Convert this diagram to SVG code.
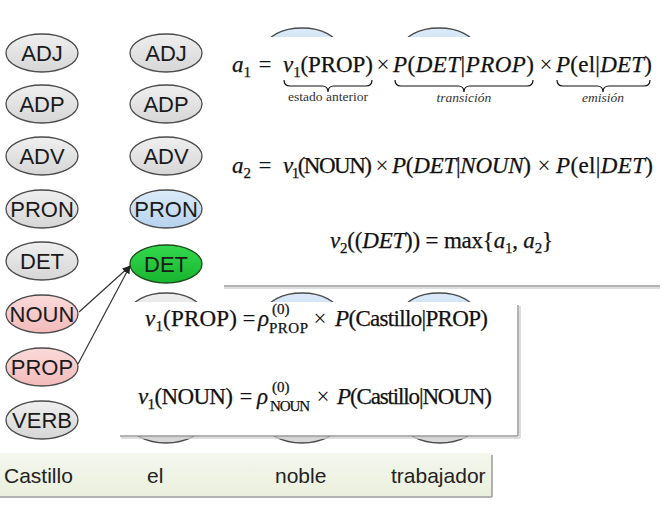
<svg xmlns="http://www.w3.org/2000/svg" width="662" height="507" viewBox="0 0 662 507">
<style>
.n{stroke:#4a4a4a;stroke-width:1.3}
.g{fill:url(#gg)}
.b{fill:url(#gb)}
.gr{fill:url(#ggr)}
.p{fill:url(#gp)}
.lbl{font-family:"Liberation Sans",Arial,sans-serif;font-size:22px;fill:#1a1a1a;text-anchor:middle}
.w{font-family:"Liberation Sans",Arial,sans-serif;font-size:21px;fill:#222}
.m{font-family:"Liberation Serif","Times New Roman",serif;font-size:23px;fill:#111;stroke:#111;stroke-width:0.25}
.mc{font-family:"Liberation Serif","Times New Roman",serif;font-size:23px;fill:#111;text-anchor:middle}
.s{font-size:15px}
.i{font-style:italic}
.br{fill:none;stroke:#111;stroke-width:1.2}
.cap{font-family:"Liberation Serif","Times New Roman",serif;font-size:13.5px;fill:#333;text-anchor:middle}
.sh{stroke:#9a9a9a;stroke-width:1.5}
.sh2{stroke:#d2d2d2;stroke-width:1.5}
.c{stroke:#333;stroke-width:1.2;fill:none}
</style>
<defs>
<linearGradient id="gg" x1="0" y1="0" x2="0" y2="1"><stop offset="0" stop-color="#efefef"/><stop offset="1" stop-color="#d6d6d6"/></linearGradient>
<linearGradient id="gb" x1="0" y1="0" x2="0" y2="1"><stop offset="0" stop-color="#dcebf9"/><stop offset="1" stop-color="#b6d2ee"/></linearGradient>
<linearGradient id="ggr" x1="0" y1="0" x2="0" y2="1"><stop offset="0" stop-color="#33d94e"/><stop offset="1" stop-color="#18b42e"/></linearGradient>
<linearGradient id="gp" x1="0" y1="0" x2="0" y2="1"><stop offset="0" stop-color="#fbdada"/><stop offset="1" stop-color="#f2baba"/></linearGradient>
<linearGradient id="gs" x1="0" y1="0" x2="0" y2="1"><stop offset="0" stop-color="#f4f7ee"/><stop offset="1" stop-color="#eaf0dd"/></linearGradient>
<marker id="ah" viewBox="0 0 10 10" refX="9" refY="5" markerWidth="7" markerHeight="7" orient="auto"><path d="M0,1 L10,5 L0,9 z" fill="#222"/></marker>
</defs>
<rect width="662" height="507" fill="#ffffff"/>

<g id="hidden-nodes">
<ellipse class="n b" cx="302" cy="47" rx="36" ry="19"/>
<ellipse class="n b" cx="439" cy="47" rx="36" ry="19"/>
<ellipse class="n g" cx="166" cy="312" rx="36" ry="19"/>
<ellipse class="n b" cx="302" cy="312" rx="36" ry="19"/>
<ellipse class="n b" cx="439" cy="312" rx="36" ry="19"/>
<ellipse class="n g" cx="166" cy="424" rx="36" ry="19"/>
<ellipse class="n g" cx="302" cy="424" rx="36" ry="19"/>
<ellipse class="n g" cx="440" cy="424" rx="36" ry="19"/>
</g>

<g id="c1-adj"><ellipse class="n g" cx="42" cy="53" rx="36" ry="19"/><text class="lbl" x="42" y="61">ADJ</text></g>
<g id="c1-adp"><ellipse class="n g" cx="42" cy="104" rx="36" ry="19"/><text class="lbl" x="42" y="112">ADP</text></g>
<g id="c1-adv"><ellipse class="n g" cx="42" cy="156" rx="36" ry="19"/><text class="lbl" x="42" y="164">ADV</text></g>
<g id="c1-pron"><ellipse class="n g" cx="42" cy="209" rx="36" ry="19"/><text class="lbl" x="42" y="217">PRON</text></g>
<g id="c1-det"><ellipse class="n g" cx="42" cy="261" rx="36" ry="19"/><text class="lbl" x="42" y="269">DET</text></g>
<g id="c1-noun"><ellipse class="n p" cx="42" cy="314" rx="36" ry="19"/><text class="lbl" x="42" y="322">NOUN</text></g>
<g id="c1-prop"><ellipse class="n p" cx="42" cy="367" rx="36" ry="19"/><text class="lbl" x="42" y="375">PROP</text></g>
<g id="c1-verb"><ellipse class="n g" cx="42" cy="420" rx="36" ry="19"/><text class="lbl" x="42" y="428">VERB</text></g>

<g id="c2-adj"><ellipse class="n g" cx="166" cy="53" rx="36" ry="19"/><text class="lbl" x="166" y="61">ADJ</text></g>
<g id="c2-adp"><ellipse class="n g" cx="166" cy="104" rx="36" ry="19"/><text class="lbl" x="166" y="112">ADP</text></g>
<g id="c2-adv"><ellipse class="n g" cx="166" cy="156" rx="36" ry="19"/><text class="lbl" x="166" y="164">ADV</text></g>
<g id="c2-pron"><ellipse class="n b" cx="166" cy="209" rx="36" ry="19"/><text class="lbl" x="166" y="217">PRON</text></g>
<g id="c2-det"><ellipse class="gr" stroke="#1d4a1d" stroke-width="1.3" cx="166" cy="264" rx="36" ry="19"/><text class="lbl" x="166" y="272">DET</text></g>

<g id="connectors">
<line class="c" x1="79" y1="312" x2="130" y2="266" marker-end="url(#ah)"/>
<line class="c" x1="78" y1="364" x2="130" y2="266" marker-end="url(#ah)"/>
</g>

<g id="top-panel">
<rect x="220" y="37" width="442" height="249" fill="#ffffff"/>
<line class="sh" x1="224" y1="286" x2="660" y2="286"/>
<line class="sh2" x1="224" y1="288" x2="660" y2="288"/>

<text class="m" x="232" y="72"><tspan class="i">a</tspan><tspan class="s" dy="5">1</tspan></text>
<text class="mc" x="265" y="72">=</text>
<text class="m" x="283" y="72" textLength="90"><tspan class="i">ν</tspan><tspan class="s" dy="5">1</tspan><tspan dy="-5">(PROP)</tspan></text>
<text class="mc" x="383" y="72">×</text>
<text class="m" x="393" y="72" textLength="141"><tspan class="i">P</tspan>(<tspan class="i">DET</tspan>|<tspan class="i">PROP</tspan>)</text>
<text class="mc" x="546" y="72">×</text>
<text class="m" x="556" y="72" textLength="96"><tspan class="i">P</tspan>(el|<tspan class="i">DET</tspan>)</text>

<path class="br" d="M284,80 q0,6 6,6 H322 q6,0 6,6 q0,-6 6,-6 H366 q6,0 6,-6"/>
<path class="br" d="M395,80 q0,6 6,6 H458 q6,0 6,6 q0,-6 6,-6 H527 q6,0 6,-6"/>
<path class="br" d="M557,80 q0,6 6,6 H597 q6,0 6,6 q0,-6 6,-6 H644 q6,0 6,-6"/>
<text class="cap" x="328" y="101">estado anterior</text>
<text class="cap i" x="464" y="102">transición</text>
<text class="cap i" x="603" y="102">emisión</text>

<text class="m" x="232" y="173"><tspan class="i">a</tspan><tspan class="s" dy="5">2</tspan></text>
<text class="mc" x="265" y="173">=</text>
<text class="m" x="283" y="173" textLength="89"><tspan class="i">ν</tspan><tspan class="s" dy="5">1</tspan><tspan dy="-5">(NOUN)</tspan></text>
<text class="mc" x="382" y="173">×</text>
<text class="m" x="392" y="173" textLength="139"><tspan class="i">P</tspan>(<tspan class="i">DET</tspan>|<tspan class="i">NOUN</tspan>)</text>
<text class="mc" x="544" y="173">×</text>
<text class="m" x="556" y="173" textLength="97"><tspan class="i">P</tspan>(el|<tspan class="i">DET</tspan>)</text>

<text class="m" x="330" y="248" textLength="223"><tspan class="i">ν</tspan><tspan class="s" dy="5">2</tspan><tspan dy="-5">((</tspan><tspan class="i">DET</tspan>)) = max{<tspan class="i">a</tspan><tspan class="s" dy="5">1</tspan><tspan dy="-5">, </tspan><tspan class="i">a</tspan><tspan class="s" dy="5">2</tspan><tspan dy="-5">}</tspan></text>
</g>

<g id="middle-panel">
<rect x="120" y="302" width="398" height="134" fill="#ffffff"/>
<line class="sh" x1="518" y1="305" x2="518" y2="436"/>
<line class="sh" x1="120" y1="436" x2="518" y2="436"/>
<line class="sh2" x1="520" y1="306" x2="520" y2="438"/>
<line class="sh2" x1="121" y1="438" x2="520" y2="438"/>

<text class="m" x="145" y="326" textLength="92"><tspan class="i">ν</tspan><tspan class="s" dy="5">1</tspan><tspan dy="-5">(PROP)</tspan></text>
<text class="mc" x="249" y="326">=</text>
<text class="m i" x="258" y="326">ρ</text>
<text class="m s" x="272" y="314">(0)</text>
<text class="m s" x="269" y="333" textLength="39">PROP</text>
<text class="mc" x="320" y="326">×</text>
<text class="m" x="335" y="326" textLength="153"><tspan class="i">P</tspan>(Castillo|PROP)</text>

<text class="m" x="138" y="404" textLength="95"><tspan class="i">ν</tspan><tspan class="s" dy="5">1</tspan><tspan dy="-5">(NOUN)</tspan></text>
<text class="mc" x="246" y="404">=</text>
<text class="m i" x="257" y="404">ρ</text>
<text class="m s" x="272" y="392">(0)</text>
<text class="m s" x="270" y="411" textLength="40">NOUN</text>
<text class="mc" x="323" y="404">×</text>
<text class="m" x="337" y="404" textLength="155"><tspan class="i">P</tspan>(Castillo|NOUN)</text>
</g>

<g id="words">
<rect x="0" y="453" width="492" height="43" fill="url(#gs)"/>
<line class="sh" x1="492" y1="455" x2="492" y2="497"/>
<line class="sh" x1="0" y1="497" x2="492" y2="497"/>
<text class="w" x="4" y="483">Castillo</text>
<text class="w" x="147" y="483">el</text>
<text class="w" x="275" y="483">noble</text>
<text class="w" x="391" y="483">trabajador</text>
</g>
</svg>
